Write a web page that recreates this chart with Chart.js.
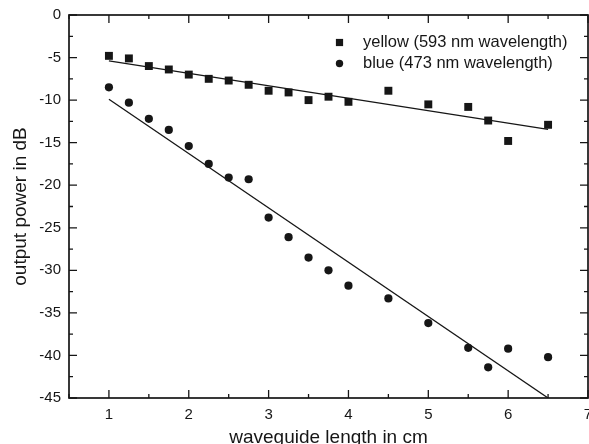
<!DOCTYPE html>
<html>
<head>
<meta charset="utf-8">
<script src="https://cdn.jsdelivr.net/npm/chart.js@4.4.1/dist/chart.umd.min.js"></script>
<style>
    html, body { margin: 0; padding: 0; background: #fff; }
    #wrap { width: 589px; height: 444px; }
</style>
</head>
<body>
<div id="wrap"><canvas id="lossChart" width="589" height="444"></canvas></div>
<script>
// Waveguide loss data

const lengthCm = [1, 1.25, 1.5, 1.75, 2, 2.25, 2.5, 2.75, 3, 3.25, 3.5, 3.75, 4, 4.5, 5, 5.5, 5.75, 6, 6.5];

const yellowDb = [-4.8, -5.1, -6.0, -6.4, -7.0, -7.5, -7.7, -8.2, -8.9, -9.1, -10.0, -9.6, -10.2, -8.9, -10.5, -10.8, -12.4, -14.8, -12.9];

const blueDb = [-8.5, -10.3, -12.2, -13.5, -15.4, -17.5, -19.1, -19.3, -23.8, -26.1, -28.5, -30.0, -31.8, -33.3, -36.2, -39.1, -41.4, -39.2, -40.2];

const fitX = [1, 6.5];
const yellowFit = [-5.4, -13.45];
const blueFit = [-9.9, -45];

const seriesLabels = ["yellow (593 nm wavelength)", "blue (473 nm wavelength)"];

const xMajorTicks = [1, 2, 3, 4, 5, 6, 7];
const xMinorTicks = [0.5, 1.5, 2.5, 3.5, 4.5, 5.5, 6.5];
const yMajorTicks = [-45, -40, -35, -30, -25, -20, -15, -10, -5, 0];
const yMinorTicks = [-42.5, -37.5, -32.5, -27.5, -22.5, -17.5, -12.5, -7.5, -2.5];

const ink = "#161616";
const font = "'Liberation Sans', Arial, sans-serif";

function toPoints(xs, ys) {
    return xs.map((x, i) => ({ x: x, y: ys[i] }));
}

// inward ticks on all four sides + frame
const frameTicks = {
    id: "frameTicks",
    afterDatasetsDraw(chart) {
        const ctx = chart.ctx;
        const a = chart.chartArea;
        const xs = chart.scales.x;
        const ys = chart.scales.y;

        ctx.save();
        ctx.strokeStyle = ink;
        ctx.lineWidth = 1.3;

        function vTick(v, len) {
            const px = xs.getPixelForValue(v);
            ctx.beginPath();
            ctx.moveTo(px, a.bottom);
            ctx.lineTo(px, a.bottom - len);
            ctx.moveTo(px, a.top);
            ctx.lineTo(px, a.top + len);
            ctx.stroke();
        }

        function hTick(v, len) {
            const py = ys.getPixelForValue(v);
            ctx.beginPath();
            ctx.moveTo(a.left, py);
            ctx.lineTo(a.left + len, py);
            ctx.moveTo(a.right, py);
            ctx.lineTo(a.right - len, py);
            ctx.stroke();
        }

        xMajorTicks.forEach(v => vTick(v, 8));
        xMinorTicks.forEach(v => vTick(v, 4));
        yMajorTicks.forEach(v => hTick(v, 8));
        yMinorTicks.forEach(v => hTick(v, 4));

        ctx.lineWidth = 1.7;
        ctx.strokeRect(a.left, a.top, a.right - a.left, a.bottom - a.top);
        ctx.restore();
    }
};

// legend in the upper right of the plot
const insideLegend = {
    id: "insideLegend",
    afterDraw(chart) {
        const ctx = chart.ctx;
        ctx.save();
        ctx.fillStyle = ink;
        ctx.font = "16.5px " + font;
        ctx.textBaseline = "middle";
        ctx.textAlign = "left";

        ctx.fillRect(339.5 - 3.6, 42.5 - 3.6, 7.2, 7.2);
        ctx.fillText(seriesLabels[0], 363, 42.5);

        ctx.beginPath();
        ctx.arc(339.5, 63.5, 3.7, 0, Math.PI * 2);
        ctx.fill();
        ctx.fillText(seriesLabels[1], 363, 63.5);
        ctx.restore();
    }
};

new Chart(document.getElementById("lossChart"), {

    type: "scatter",

    data: {

        datasets: [{
            label: seriesLabels[0],
            data: toPoints(lengthCm, yellowDb),
            pointStyle: "rect",
            pointRadius: 5.6,
            backgroundColor: ink,
            borderWidth: 0
        }, {
            label: seriesLabels[1],
            data: toPoints(lengthCm, blueDb),
            pointStyle: "circle",
            pointRadius: 4.1,
            backgroundColor: ink,
            borderWidth: 0
        }, {
            label: "yellow fit",
            data: toPoints(fitX, yellowFit),
            showLine: true,
            pointRadius: 0,
            borderColor: ink,
            borderWidth: 1.3
        }, {
            label: "blue fit",
            data: toPoints(fitX, blueFit),
            showLine: true,
            pointRadius: 0,
            borderColor: ink,
            borderWidth: 1.3
        }]

    },

    options: {

        responsive: false,
        animation: false,
        events: [],

        layout: {
            autoPadding: false,
            padding: { top: 15, right: 1, left: 0, bottom: 0 }
        },

        plugins: {
            legend: { display: false },
            tooltip: { enabled: false }
        },

        scales: {

            x: {
                type: "linear",
                position: "bottom",
                min: 0.5,
                max: 7,
                grid: { display: false, drawTicks: false },
                border: { display: false },
                afterBuildTicks: scale => {
                    scale.ticks = xMajorTicks.map(v => ({ value: v }));
                },
                afterFit: scale => {
                    scale.height = 46;
                    scale.paddingLeft = 0;
                    scale.paddingRight = 0;
                },
                ticks: {
                    padding: 8,
                    color: ink,
                    font: { family: font, size: 15 },
                    maxRotation: 0
                },
                title: {
                    display: true,
                    text: "waveguide length in cm",
                    color: ink,
                    font: { family: font, size: 19, lineHeight: 0.63 },
                    padding: 0
                }
            },

            y: {
                type: "linear",
                position: "left",
                min: -45,
                max: 0,
                grid: { display: false, drawTicks: false },
                border: { display: false },
                afterBuildTicks: scale => {
                    scale.ticks = yMajorTicks.map(v => ({ value: v }));
                },
                afterFit: scale => {
                    scale.width = 69;
                    scale.paddingTop = 0;
                    scale.paddingBottom = 0;
                },
                ticks: {
                    padding: 8,
                    color: ink,
                    font: { family: font, size: 15 }
                },
                title: {
                    display: true,
                    text: "output power in dB",
                    color: ink,
                    font: { family: font, size: 19, lineHeight: 1 },
                    padding: { top: 11, bottom: 0 }
                }
            }

        }

    },

    plugins: [frameTicks, insideLegend]

});
</script>
</body>
</html>
